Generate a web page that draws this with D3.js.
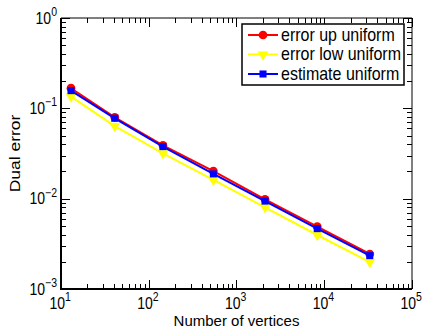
<!DOCTYPE html>
<html lang="en">
<head>
<meta charset="UTF-8">
<title>Dual error</title>
<script src="https://cdn.jsdelivr.net/npm/d3@7"></script>
<style>
  body { margin: 0; background: #fff; }
  svg text { font-family: "Liberation Sans", Arial, Helvetica, sans-serif; fill: #000; }
</style>
</head>
<body>
<script>
// data
const vertices = [13, 41, 145, 545, 2113, 8321, 33025];
const errorUp = [0.167, 0.0796, 0.0389, 0.0202, 0.00984, 0.0049, 0.00244];
const errorLow = [0.1345, 0.0637, 0.0318, 0.0161, 0.0080, 0.00396, 0.00198];
const estimate = [0.157, 0.0776, 0.0377, 0.0188, 0.0094, 0.00466, 0.00234];
const seriesNames = ["error up uniform", "error low uniform", "estimate uniform"];
const xDomain = [1e1, 1e5];
const yDomain = [1e-3, 1e0];

const width = 425, height = 330;
const margin = { left: 61, right: 13, top: 18, bottom: 41 };
const stretch = 1.15; // the original figure text looks a bit taller than wide

const svg = d3.select("body").append("svg")
    .attr("width", width)
    .attr("height", height);

const x = d3.scaleLog().domain(xDomain).range([margin.left, width - margin.right]);
const y = d3.scaleLog().domain(yDomain).range([height - margin.bottom, margin.top]);

const x0 = x.range()[0], x1 = x.range()[1];
const y0 = y.range()[0], y1 = y.range()[1];

const isMajor = v => Math.abs(Math.log10(v) - Math.round(Math.log10(v))) < 1e-9;

// ticks on all 4 sides, pointing inward
const tickG = svg.append("g").attr("stroke", "#000").attr("stroke-width", 1);
x.ticks().forEach(v => {
    const len = isMajor(v) ? 9 : 5;
    const px = Math.round(x(v)) + 0.5;
    tickG.append("line").attr("x1", px).attr("x2", px).attr("y1", y0).attr("y2", y0 - len);
    tickG.append("line").attr("x1", px).attr("x2", px).attr("y1", y1).attr("y2", y1 + len);
});
y.ticks().forEach(v => {
    const len = isMajor(v) ? 9 : 5;
    const py = Math.round(y(v)) + 0.5;
    tickG.append("line").attr("y1", py).attr("y2", py).attr("x1", x0).attr("x2", x0 + len);
    tickG.append("line").attr("y1", py).attr("y2", py).attr("x1", x1).attr("x2", x1 - len);
});

// axes box: thick left/bottom, thin top/right
svg.append("path")
    .attr("d", `M${x0},${y1}V${y0}H${x1}`)
    .attr("fill", "none").attr("stroke", "#000").attr("stroke-width", 2);
svg.append("path")
    .attr("d", `M${x0},${y1}H${x1}V${y0}`)
    .attr("fill", "none").attr("stroke", "#000").attr("stroke-width", 1);

// tick labels, 10^n
const expo = n => String(n).replace("-", "\u2212");
function powLabel(px, py, v, anchor) {
    const t = svg.append("text")
        .attr("transform", `translate(${px},${py}) scale(1,${stretch})`)
        .attr("text-anchor", anchor)
        .attr("font-size", 14);
    t.append("tspan").text("10");
    t.append("tspan").attr("font-size", 10.5).attr("dy", -6.5).text(expo(Math.round(Math.log10(v))));
}
x.ticks().filter(isMajor).forEach(v => powLabel(x(v) - 11.5, y0 + 19.5, v, "start"));
y.ticks().filter(isMajor).forEach(v => powLabel(x0 - 4, y(v) + 5.5, v, "end"));

// axis titles
svg.append("text")
    .attr("x", (x0 + x1) / 2)
    .attr("y", height - 4)
    .attr("text-anchor", "middle")
    .attr("font-size", 15)
    .text("Number of vertices");
svg.append("text")
    .attr("transform", `translate(20,${(y0 + y1) / 2}) rotate(-90) scale(${stretch},1)`)
    .attr("text-anchor", "middle")
    .attr("font-size", 15.2)
    .text("Dual error");

// series
const series = [
    { name: seriesNames[0], values: errorUp, color: "#ff0000", symbol: d3.symbolCircle, size: 60 },
    { name: seriesNames[1], values: errorLow, color: "#ffff00", symbol: d3.symbolTriangle, size: 50, flip: true },
    { name: seriesNames[2], values: estimate, color: "#0000ff", symbol: d3.symbolSquare, size: 50 }
];

const line = d3.line().x(d => x(d[0])).y(d => y(d[1]));

const plot = svg.append("g");
series.forEach(s => {
    const pts = vertices.map((v, i) => [v, s.values[i]]);
    plot.append("path")
        .attr("d", line(pts))
        .attr("fill", "none")
        .attr("stroke", s.color)
        .attr("stroke-width", 2);
    plot.selectAll(null)
        .data(pts)
        .enter()
        .append("path")
        .attr("d", d3.symbol().type(s.symbol).size(s.size))
        .attr("transform", d => `translate(${x(d[0])},${y(d[1])})${s.flip ? " rotate(180)" : ""}`)
        .attr("fill", s.color);
});

// legend
const lg = svg.append("g").attr("transform", "translate(242,24)");
lg.append("rect")
    .attr("width", 162).attr("height", 61)
    .attr("fill", "#fff").attr("stroke", "#000").attr("stroke-width", 1.5);
series.forEach((s, i) => {
    const ly = 11 + i * 19.5;
    lg.append("line")
        .attr("x1", 6).attr("x2", 36).attr("y1", ly).attr("y2", ly)
        .attr("stroke", s.color).attr("stroke-width", 2);
    lg.append("path")
        .attr("d", d3.symbol().type(s.symbol).size(s.size)())
        .attr("transform", `translate(21,${ly})${s.flip ? " rotate(180)" : ""}`)
        .attr("fill", s.color);
    lg.append("text")
        .attr("transform", `translate(39,${ly + 5.5}) scale(1,${stretch})`)
        .attr("font-size", 16)
        .text(s.name);
});
</script>
</body>
</html>
